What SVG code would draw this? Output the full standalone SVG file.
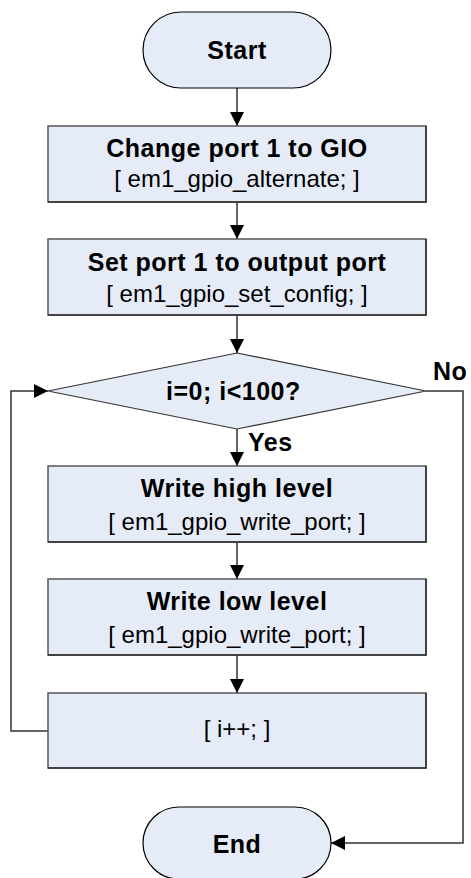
<svg xmlns="http://www.w3.org/2000/svg" width="471" height="878" viewBox="0 0 471 878">
<style>
.n{fill:#E6ECF7;stroke:#555;stroke-width:1.5}
.sh{fill:none;stroke:#303030;stroke-width:1.5}
.t{stroke:#000;stroke-width:1.2;fill:#E6ECF7}
.b{font-family:"Liberation Sans",Arial,sans-serif;font-weight:bold;font-size:25px;letter-spacing:0.5px;fill:#000;text-anchor:middle}
.r{font-family:"Liberation Sans",Arial,sans-serif;font-size:24px;fill:#000;text-anchor:middle}
.c{fill:none;stroke:#333;stroke-width:1.5}
</style>
<defs>
<marker id="ah" markerUnits="userSpaceOnUse" markerWidth="14" markerHeight="14" refX="14" refY="7" orient="auto">
<path d="M0,0 L14,7 L0,14 Z" fill="#000"/>
</marker>
</defs>
<g id="connectors">
<line class="c" x1="237" y1="88" x2="237" y2="126" marker-end="url(#ah)"/>
<line class="c" x1="237" y1="202" x2="237" y2="239" marker-end="url(#ah)"/>
<line class="c" x1="237" y1="315" x2="237" y2="353" marker-end="url(#ah)"/>
<line class="c" x1="237" y1="429" x2="237" y2="466" marker-end="url(#ah)"/>
<line class="c" x1="237" y1="542" x2="237" y2="579" marker-end="url(#ah)"/>
<line class="c" x1="237" y1="655" x2="237" y2="693" marker-end="url(#ah)"/>
<polyline class="c" points="48,731 11,731 11,391 48,391" marker-end="url(#ah)"/>
<polyline class="c" points="426,391 463,391 463,843 331,843" marker-end="url(#ah)"/>
<text x="248" y="451" class="b" style="text-anchor:start">Yes</text>
<text x="433" y="380" class="b" style="text-anchor:start">No</text>
</g>
<g id="start">
<rect class="t" x="143" y="12" width="188" height="76" rx="38" ry="38"/>
<text x="237" y="59" class="b">Start</text>
</g>
<g id="box1">
<rect class="n" x="48" y="126" width="378" height="76"/>
<polyline class="sh" points="426,126 426,202 48,202"/>
<text x="237" y="157" class="b">Change port 1 to GIO</text>
<text x="237" y="187" class="r">[ em1_gpio_alternate; ]</text>
</g>
<g id="box2">
<rect class="n" x="48" y="239" width="378" height="76"/>
<polyline class="sh" points="426,239 426,315 48,315"/>
<text x="237" y="271" class="b">Set port 1 to output port</text>
<text x="237" y="302" class="r">[ em1_gpio_set_config; ]</text>
</g>
<g id="decision">
<polygon class="t" points="237,353 426,391 237,429 48,391" style="stroke:#333"/>
<text x="166" y="400" class="b" style="text-anchor:start">i=0; i&lt;100?</text>
</g>
<g id="box3">
<rect class="n" x="48" y="466" width="378" height="76"/>
<polyline class="sh" points="426,466 426,542 48,542"/>
<text x="237" y="497" class="b">Write high level</text>
<text x="237" y="530" class="r">[ em1_gpio_write_port; ]</text>
</g>
<g id="box4">
<rect class="n" x="48" y="579" width="378" height="76"/>
<polyline class="sh" points="426,579 426,655 48,655"/>
<text x="237" y="610" class="b">Write low level</text>
<text x="237" y="643" class="r">[ em1_gpio_write_port; ]</text>
</g>
<g id="box5">
<rect class="n" x="48" y="693" width="378" height="75"/>
<polyline class="sh" points="426,693 426,768 48,768"/>
<text x="237" y="737" class="r">[ i++; ]</text>
</g>
<g id="end">
<rect class="t" x="143" y="807" width="188" height="72" rx="36" ry="36"/>
<text x="237" y="853" class="b">End</text>
</g>
</svg>
